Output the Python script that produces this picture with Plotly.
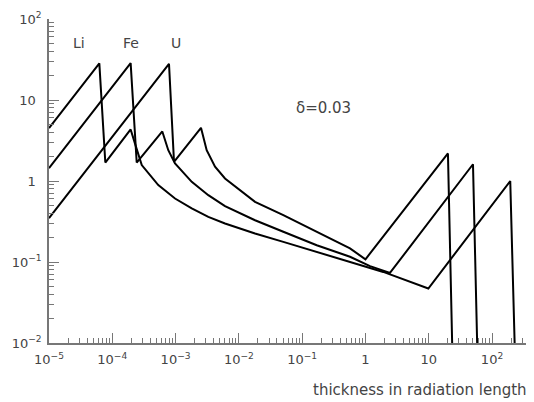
import numpy as np
import plotly.graph_objects as go

# ---- data ----
li_x = [1e-5, 6.24e-5, 7.76e-5, 1.95e-4, 2.37e-4, 2.92e-4, 5.33e-4, 9.8e-4, 1.8e-3,
        3.29e-3, 6.04e-3, 0.018, 0.0504, 0.17, 0.57, 1.91, 9.85, 194, 233]
li_y = [4.5, 28.3, 1.69, 4.33, 2.64, 1.57, 0.889, 0.608, 0.458,
        0.36, 0.299, 0.225, 0.177, 0.133, 0.100, 0.0754, 0.047, 1.0, 0.005]

fe_x = [1e-5, 1.95e-4, 2.43e-4, 6.17e-4, 7.67e-4, 9.8e-4, 1.8e-3, 3.29e-3, 6.04e-3,
        0.018, 0.0504, 0.17, 0.57, 1.18, 2.44, 50, 59.4]
fe_y = [1.44, 28.5, 1.69, 4.09, 2.40, 1.65, 0.976, 0.668, 0.489,
        0.328, 0.236, 0.161, 0.116, 0.0888, 0.0733, 1.61, 0.005]

u_x = [1e-5, 7.87e-4, 9.44e-4, 2.52e-3, 3.1e-3, 4.2e-3, 6.04e-3, 0.0111, 0.018,
       0.0504, 0.17, 0.57, 1.0, 20.1, 23.9]
u_y = [0.348, 28.0, 1.72, 4.54, 2.40, 1.50, 1.075, 0.735, 0.552,
       0.378, 0.236, 0.147, 0.108, 2.19, 0.005]

series = [("Li", li_x, li_y), ("Fe", fe_x, fe_y), ("U", u_x, u_y)]

x_tickvals = [1e-5, 1e-4, 1e-3, 1e-2, 1e-1, 1, 10, 100]
x_ticktext = ["10<sup>−5</sup>", "10<sup>−4</sup>", "10<sup>−3</sup>", "10<sup>−2</sup>",
              "10<sup>−1</sup>", "1", "10", "10<sup>2</sup>"]
y_tickvals = [1e-2, 1e-1, 1, 10, 100]
y_ticktext = ["10<sup>−2</sup>", "10<sup>−1</sup>", "1<sup>\u00a0\u00a0</sup>",
              "10<sup>\u00a0\u00a0</sup>", "10<sup>2</sup>"]

# labels placed near the first peaks
labels = [("Li", 2.98e-5, 50.5), ("Fe", 1.98e-4, 50.5), ("U", 1.0e-3, 50.5)]
delta_label = ("δ=0.03", 0.217, 7.94)
x_title = "thickness in radiation length"

FONT = "DejaVu Sans"
TXT = "#444444"
AX = "#777777"

fig = go.Figure()
for name, xs, ys in series:
    fig.add_trace(go.Scatter(x=xs, y=ys, mode="lines", name=name,
                             line=dict(color="black", width=2), showlegend=False))

for txt, lx, ly in labels:
    fig.add_annotation(x=np.log10(lx), y=np.log10(ly), xref="x", yref="y", text=txt,
                       showarrow=False, font=dict(family=FONT, size=14, color=TXT))
fig.add_annotation(x=np.log10(delta_label[1]), y=np.log10(delta_label[2]), xref="x", yref="y",
                   text=delta_label[0], showarrow=False,
                   font=dict(family=FONT, size=15, color=TXT))
fig.add_annotation(x=1.0, y=-0.146, xref="paper", yref="paper", xanchor="right", yanchor="middle",
                   xshift=-5, text=x_title, showarrow=False,
                   font=dict(family=FONT, size=15, color=TXT))

axis_common = dict(
    type="log", showgrid=False, zeroline=False, showline=True, linecolor=AX, linewidth=1.5,
    ticks="inside", ticklen=10, tickcolor=AX, tickwidth=1,
    tickfont=dict(family=FONT, size=13, color=TXT),
    minor=dict(ticks="inside", ticklen=5, tickcolor=AX, tickwidth=1, dtick="D1", showgrid=False),
)

fig.update_xaxes(range=[-5, 2.663], tickvals=x_tickvals, ticktext=x_ticktext,
                 ticklabelstandoff=4, **axis_common)
fig.update_yaxes(range=[-2, 2], tickvals=y_tickvals, ticktext=y_ticktext,
                 ticklabelstandoff=3, **axis_common)

# page body has an 8px default margin: size/margins compensate so the plot lands where the reference has it
fig.update_layout(
    width=526, height=394,
    margin=dict(l=41, r=0, t=11, b=59),
    plot_bgcolor="white", paper_bgcolor="white",
    font=dict(family=FONT, color=TXT),
)

fig.write_html("out.html")
